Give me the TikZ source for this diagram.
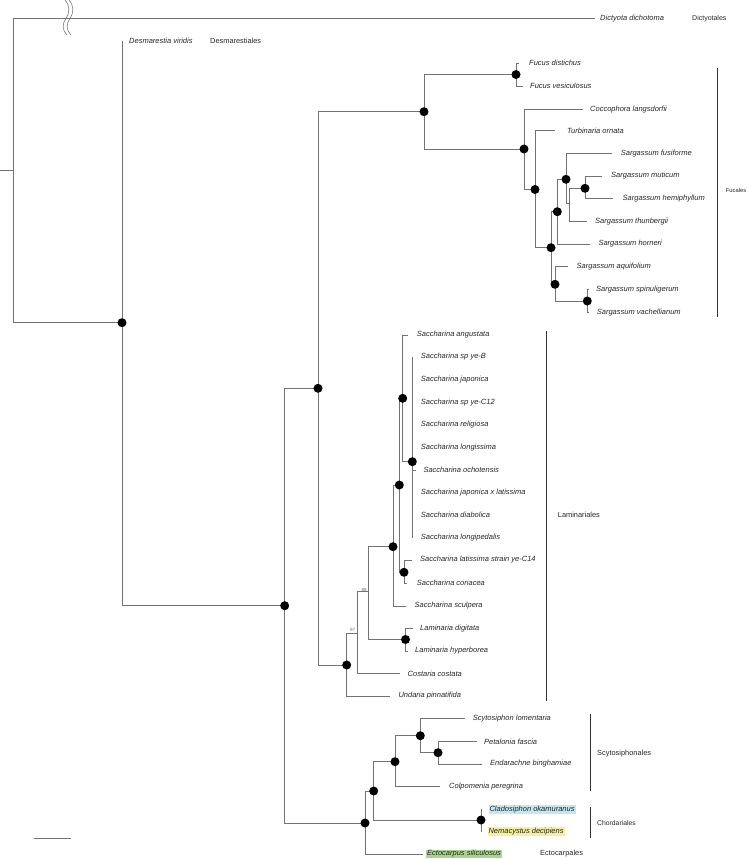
\documentclass[tikz,border=0pt]{standalone}
\usepackage{fontspec}
\setmainfont{Liberation Sans}
\definecolor{hlblue}{HTML}{C4E6EE}
\definecolor{hlyellow}{HTML}{F4F09C}
\definecolor{hlgreen}{HTML}{A9D38E}

\begin{document}
\begin{tikzpicture}[x=1pt,y=-1pt,
  br/.style={draw=black!55, line width=0.7pt},
  bar/.style={draw=black!80, line width=0.8pt},
  sp/.style={anchor=west, xshift=-1pt, inner xsep=1pt, inner ysep=0.8pt, text=black!85, font=\fontsize{7.5}{8}\selectfont\itshape},
  ord/.style={anchor=west, inner sep=0pt, text=black!85, font=\fontsize{7.4}{8}\selectfont},
  boot/.style={inner sep=0pt, text=black!60, font=\fontsize{4.5}{5}\selectfont}]
\useasboundingbox (0,0) rectangle (747,859);

% internal nodes
\coordinate (stub) at (0,170.5);
\coordinate (root) at (13.3,170.5);
\coordinate (n1) at (122,322.7);
\coordinate (n2) at (284.7,605.7);
\coordinate (n3) at (318,388.3);
\coordinate (fuc) at (424,111.7);
\coordinate (fcs) at (516,74.5);
\coordinate (f3) at (524,149);
\coordinate (f4) at (535,189.5);
\coordinate (sg) at (551,247.7);
\coordinate (sg1) at (557.3,211.7);
\coordinate (sg2) at (566,179.3);
\coordinate (sg3) at (569,203.3);
\coordinate (sg4) at (585,188.3);
\coordinate (sg5) at (555,284.3);
\coordinate (sg6) at (587.3,301);
\coordinate (lam) at (346.7,665);
\coordinate (l97) at (357.3,633.3);
\coordinate (l88) at (368.3,591.7);
\coordinate (sc) at (393,546.7);
\coordinate (sc1) at (399.3,485);
\coordinate (sc2) at (402.7,398.3);
\coordinate (sc3) at (412.3,461.7);
\coordinate (sc4) at (404,572.3);
\coordinate (lmn) at (405.5,639.5);
\coordinate (ec) at (365,823);
\coordinate (ec1) at (373.7,791);
\coordinate (sy) at (395,761.7);
\coordinate (sy1) at (420.3,735.7);
\coordinate (sy2) at (438,752.7);
\coordinate (ch) at (481,820);

\draw[br] (stub) -- (root);
\foreach \a/\b in {root/n1, n1/n2, n2/n3, n3/fuc, fuc/fcs, fuc/f3, f3/f4, f4/sg,
  sg/sg1, sg1/sg2, sg2/sg3, sg3/sg4, sg/sg5, sg5/sg6, n3/lam, lam/l97, l97/l88,
  l88/sc, sc/sc1, sc1/sc2, sc2/sc3, sc1/sc4, l88/lmn, n2/ec, ec/ec1, ec1/sy,
  sy/sy1, sy1/sy2, ec1/ch}
  \draw[br] (\a) |- (\b);

% tips: name/parent/branch end/label x/y/fill/text
\foreach \nm/\pa/\xe/\xl/\yy/\fc/\txt in {
  dd/root/595/600/18.3/none/Dictyota dichotoma,
  dv/n1/122/129/41.2/none/Desmarestia viridis,
  fd/fcs/519/529/63.3/none/Fucus distichus,
  fv/fcs/523/530/86/none/Fucus vesiculosus,
  cl/f3/583/590/109.3/none/Coccophora langsdorfii,
  to/f4/555/567/130.7/none/Turbinaria ornata,
  sfu/sg2/612.3/620.7/153.3/none/Sargassum fusiforme,
  smu/sg4/601.7/611/176/none/Sargassum muticum,
  she/sg4/613/622.5/198.6/none/Sargassum hemiphyllum,
  sth/sg3/587.3/595/221.7/none/Sargassum thunbergii,
  shr/sg1/590/598.3/244/none/Sargassum horneri,
  saq/sg5/568.3/576.5/266.7/none/Sargassum aquifolium,
  ssp/sg6/588.5/596/289.5/none/Sargassum spinuligerum,
  sva/sg6/588.5/596.7/312.3/none/Sargassum vachellianum,
  sang/sc2/408.3/416.7/335/none/Saccharina angustata,
  ssb/sc3/412.3/420.7/356.7/none/Saccharina sp ye-B,
  sja/sc3/412.3/420.7/380/none/Saccharina japonica,
  ssc/sc3/412.3/420.7/402.3/none/Saccharina sp ye-C12,
  sre/sc3/412.3/420.7/425/none/Saccharina religiosa,
  slo/sc3/412.3/420.7/447.7/none/Saccharina longissima,
  soc/sc3/416/423.3/470/none/Saccharina ochotensis,
  sjl/sc3/412.3/420.7/492.7/none/Saccharina japonica x latissima,
  sdi/sc3/412.3/420.7/515/none/Saccharina diabolica,
  slp/sc3/412.3/420.7/537.5/none/Saccharina longipedalis,
  slc/sc4/411.7/420/560/none/Saccharina latissima strain ye-C14,
  sco/sc4/407.3/416.7/583.3/none/Saccharina coriacea,
  ssu/sc/406/414.5/606/none/Saccharina sculpera,
  ldi/lmn/412.7/420/628.3/none/Laminaria digitata,
  lhy/lmn/407.5/415/651/none/Laminaria hyperborea,
  cco/l97/400/407.5/673.7/none/Costaria costata,
  upi/lam/390/398.3/696/none/Undaria pinnatifida,
  slm/sy1/465/472.7/718.3/none/Scytosiphon lomentaria,
  pfa/sy2/476.7/484/741.7/none/Petalonia fascia,
  ebi/sy2/481.7/490/764/none/Endarachne binghamiae,
  cpe/sy/440/449/786.7/none/Colpomenia peregrina,
  cok/ch/481/489.3/809.3/hlblue/Cladosiphon okamuranus,
  nde/ch/481/488.3/831.5/hlyellow/Nemacystus decipiens,
  esi/ec/423.3/427/854/hlgreen/Ectocarpus siliculosus}{
  \coordinate (\nm) at (\xe,\yy);
  \node[sp, fill=\fc] (\nm-lab) at (\xl,\yy) {\txt};
  \draw[br] (\pa) |- (\nm);
}

% supported nodes
\foreach \n in {n1, n2, n3, fuc, fcs, f3, f4, sg, sg1, sg2, sg4, sg5, sg6, lam,
  sc, sc1, sc2, sc3, sc4, lmn, ec, ec1, sy, sy1, sy2, ch}
  \fill (\n) circle (4.5pt);

\node[boot] (b88) at (364,589.5) {88};
\node[boot] (b97) at (352.7,629.5) {97};

% break on the long branch
\foreach \dx in {0,4}
  \draw[black!60, line width=0.5pt] (65+\dx,0) .. controls (70+\dx,6) and (70+\dx,12) .. (66+\dx,18.3)
    .. controls (62+\dx,24) and (62+\dx,30) .. (67+\dx,35);

% orders
\node[ord, font=\fontsize{7}{8}\selectfont] (o-dic) at (692,18.3) {Dictyotales};
\node[ord] (o-des) at (210,41.2) {Desmarestiales};
\node[ord, font=\fontsize{5.8}{6}\selectfont] (o-fuc) at (725.7,190) {Fucales};
\node[ord] (o-lam) at (557.7,515.3) {Laminariales};
\node[ord] (o-scy) at (597,754) {Scytosiphonales};
\node[ord, font=\fontsize{6.8}{8}\selectfont] (o-cho) at (597,823.3) {Chordariales};
\node[ord] (o-ect) at (540,854) {Ectocarpales};
\draw[bar] (717,68) -- (717,316.7);
\draw[bar] (546.7,331) -- (546.7,701);
\draw[bar] (590,714) -- (590,790.7);
\draw[bar] (590,807) -- (590,838);

% scale
\draw[br] (34,838.3) -- (70.7,838.3);
\end{tikzpicture}
\end{document}
